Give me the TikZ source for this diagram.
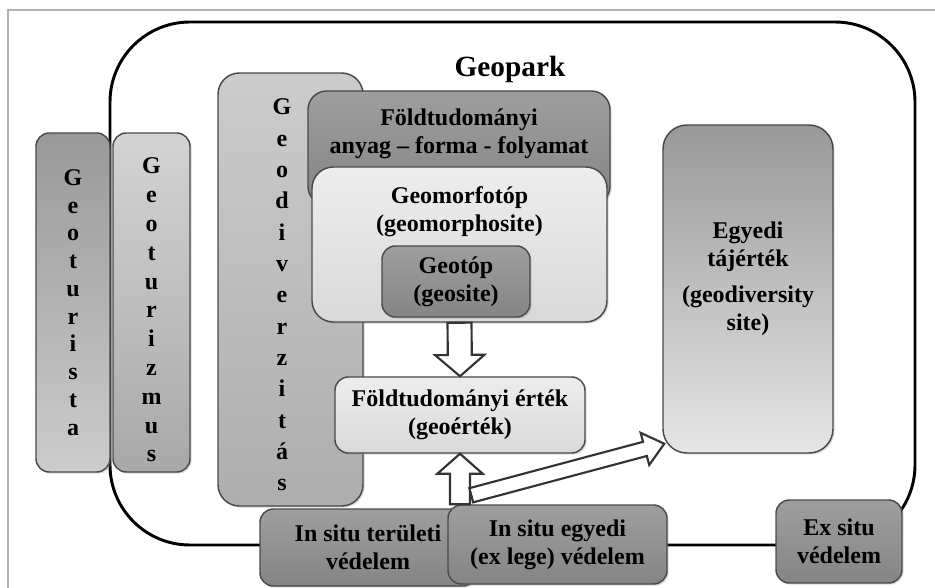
\documentclass[tikz,border=0pt]{standalone}
\usepackage{fontspec}
\setmainfont{Liberation Serif}
\usetikzlibrary{positioning,calc,shadows}

\definecolor{boxline}{HTML}{4A4A4A}

\tikzset{
  box/.style={draw=boxline, line width=1.1pt, rounded corners=10pt, inner sep=0pt,
    align=center, font=\bfseries\fontsize{18}{21}\selectfont,
    drop shadow={shadow xshift=1.2pt, shadow yshift=-1.2pt, opacity=0.3}},
  darkbox/.style={box, top color={black!38}, bottom color={black!48}},
  lightbox/.style={box, top color={black!7}, bottom color={black!15}},
  boxtext/.style={inner sep=0pt, align=center, font=\bfseries\fontsize{18}{21}\selectfont},
  blockarrow/.style={draw=black!80, line width=1.6pt, fill=white, line join=miter}
}

% hollow block arrow: from, to, shaft half width, head half width, head length
\newcommand{\blockarrow}[5]{%
  \coordinate (headbase) at ($(#2)!#5!(#1)$);
  \draw[blockarrow] ($(#1)!#3!90:(#2)$) -- ($(headbase)!#3!90:(#2)$)
    -- ($(headbase)!#4!90:(#2)$) -- (#2) -- ($(headbase)!#4!-90:(#2)$)
    -- ($(headbase)!#3!-90:(#2)$) -- ($(#1)!#3!-90:(#2)$) -- cycle;}

\begin{document}
\begin{tikzpicture}[x=0.75pt, y=-0.75pt]
  \useasboundingbox (0,0) rectangle (935,588);
  \draw[black!30, line width=0.8pt] (8,588) -- (8,10) -- (935,10);

  % outer frame
  \node[draw, line width=2.2pt, rounded corners=60pt, inner sep=0pt,
    minimum width=603.75pt, minimum height=392.25pt] (park) at (512.5,283.5) {};
  \node[boxtext, font=\bfseries\fontsize{22}{26}\selectfont] (parklabel) at (510,69) {Geopark};

  % left columns
  \node[box, top color={black!40}, middle color={black!12}, bottom color={black!20},
    minimum width=55.5pt, minimum height=254.25pt, font=\bfseries\fontsize{18}{20.8}\selectfont]
    (turista) at (73,302.5) {G\\e\\o\\t\\u\\r\\i\\s\\t\\a};
  \node[box, top color={black!17}, bottom color={black!34},
    minimum width=57.75pt, minimum height=254.25pt] (turizmus) at (151.5,302.5) {};
  \node[boxtext, font=\bfseries\fontsize{18}{21.6}\selectfont] (turizmustxt) at (151.5,310)
    {G\\e\\o\\t\\u\\r\\i\\z\\m\\u\\s};
  \node[box, rounded corners=16pt, top color={black!20}, bottom color={black!32},
    minimum width=108.75pt, minimum height=324.75pt] (diverz) at (290.5,289.5) {};
  \node[boxtext, font=\bfseries\fontsize{18}{23.5}\selectfont] (diverztxt) at (282,295)
    {G\\e\\o\\d\\i\\v\\e\\r\\z\\i\\t\\á\\s};

  % nested boxes
  \node[darkbox, rounded corners=14pt, minimum width=226.5pt, minimum height=85.5pt] (anyag) at (459,148) {};
  \node[boxtext, below=14pt of anyag.north] (anyagtxt) {Földtudományi\\anyag – forma - folyamat};
  \node[lightbox, rounded corners=16pt, minimum width=221.25pt, minimum height=116.25pt] (geomorf) at (459.5,244.5) {};
  \node[boxtext, below=15pt of geomorf.north] (geomorftxt) {Geomorfotóp\\(geomorphosite)};
  \node[darkbox, minimum width=111pt, minimum height=53.25pt] (geotop) at (456,281.5) {Geotóp\\(geosite)};
  \node[lightbox, minimum width=187.5pt, minimum height=57pt] (ertek) at (460,415)
    {Földtudományi érték\\(geoérték)};

  % right column
  \node[box, rounded corners=18pt, top color={black!40}, middle color={black!20}, bottom color={black!10},
    minimum width=127.5pt, minimum height=246pt] (tajertek) at (748,289) {};
  \node[boxtext] (tajtxt) at ($(tajertek.center)+(0,-10)$)
    {Egyedi\\tájérték\\[6pt](geodiversity\\site)};

  % protection boxes
  \node[darkbox, minimum width=162pt, minimum height=57.75pt] (terulet) at (368,547.5)
    {In situ területi\\védelem};
  \node[darkbox, minimum width=164.25pt, minimum height=59.25pt] (egyedi) at (557.5,544.5)
    {In situ egyedi\\(ex lege) védelem};
  \node[darkbox, minimum width=94.5pt, minimum height=62.25pt] (exsitu) at (839,541.5)
    {Ex situ\\védelem};

  % arrows
  \coordinate (upbase) at (ertek.south |- egyedi.north);
  \coordinate (diagbase) at ($(egyedi.north west)+(24,-9)$);
  \coordinate (diagtip) at ($(tajertek.south west)+(2,-10)$);
  \blockarrow{geomorf.south}{ertek.north}{9pt}{18.5pt}{16pt}
  \blockarrow{upbase}{ertek.south}{7.5pt}{17pt}{15pt}
  \blockarrow{diagbase}{diagtip}{5.5pt}{12.5pt}{15pt}
\end{tikzpicture}
\end{document}
